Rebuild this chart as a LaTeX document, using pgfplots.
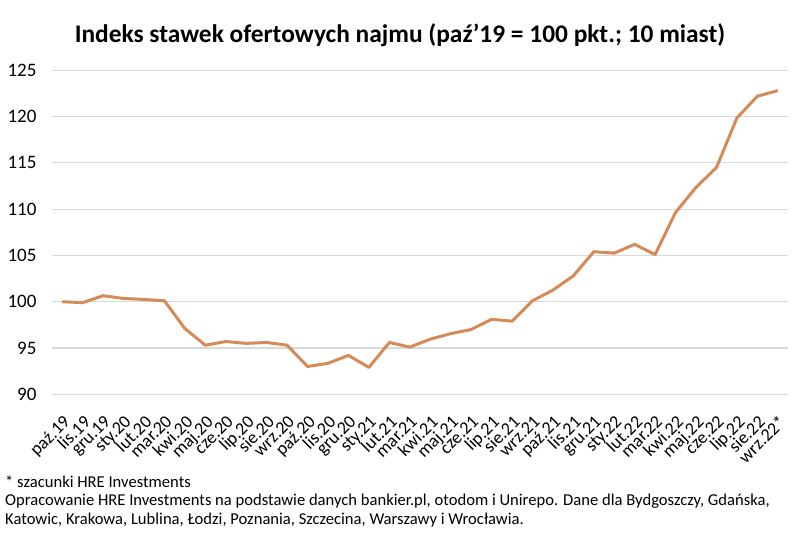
\documentclass[border=0pt]{standalone}
\usepackage{pgfplots}
\pgfplotsset{compat=1.18}
\usepackage{fontspec}
\setmainfont{Carlito}
\definecolor{lineor}{HTML}{D68A58}
\definecolor{gridgray}{HTML}{D9D9D9}
\begin{document}
\begin{tikzpicture}[x=1bp,y=1bp]
\useasboundingbox (0,0) rectangle (800,535);
\begin{axis}[
  at={(52bp,140.7bp)}, anchor=south west,
  scale only axis, width=736bp, height=324bp,
  xmin=-0.5, xmax=35.5, ymin=90, ymax=125,
  ytick={90,95,...,125},
  xtick={0,...,35},
  xticklabels={paź.19,lis.19,gru.19,sty.20,lut.20,mar.20,kwi.20,maj.20,cze.20,lip.20,sie.20,wrz.20,paź.20,lis.20,gru.20,sty.21,lut.21,mar.21,kwi.21,maj.21,cze.21,lip.21,sie.21,wrz.21,paź.21,lis.21,gru.21,sty.22,lut.22,mar.22,kwi.22,maj.22,cze.22,lip.22,sie.22,wrz.22*},
  xticklabel style={rotate=45, anchor=north east, font=\fontsize{18bp}{19bp}\selectfont, inner sep=1bp, xshift=-13bp, yshift=-13bp},
  yticklabel style={font=\fontsize{19bp}{20bp}\selectfont, xshift=-12bp},
  /pgf/number format/assume math mode=true,
  axis line style={draw=none},
  major tick length=0pt,
  ymajorgrids, grid style={gridgray, line width=1.2bp},
  clip=false,
]
\addplot[lineor, line width=3bp, line join=round] coordinates {
(0,100.0) (1,99.9) (2,100.65) (3,100.35) (4,100.25) (5,100.1)
(6,97.1) (7,95.3) (8,95.7) (9,95.5) (10,95.6) (11,95.3)
(12,93.0) (13,93.35) (14,94.2) (15,92.9) (16,95.6) (17,95.1)
(18,95.95) (19,96.55) (20,97.0) (21,98.1) (22,97.9) (23,100.1)
(24,101.25) (25,102.8) (26,105.4) (27,105.25) (28,106.2) (29,105.1)
(30,109.65) (31,112.35) (32,114.5) (33,119.85) (34,122.2) (35,122.8)
};
\end{axis}
\node[font=\bfseries\fontsize{25.4bp}{27bp}\selectfont] at (400,500) {Indeks stawek ofertowych najmu (paź'19 = 100 pkt.; 10 miast)};
\node[anchor=west, inner sep=0, font=\fontsize{16.6bp}{18bp}\selectfont] at (5,53) {* szacunki HRE Investments};
\node[anchor=west, inner sep=0, font=\fontsize{16.6bp}{18bp}\selectfont] at (5,34) {Opracowanie HRE Investments na podstawie danych bankier.pl, otodom i Unirepo. Dane dla Bydgoszczy, Gdańska,};
\node[anchor=west, inner sep=0, font=\fontsize{16.6bp}{18bp}\selectfont] at (5,15) {Katowic, Krakowa, Lublina, Łodzi, Poznania, Szczecina, Warszawy i Wrocławia.};
\end{tikzpicture}
\end{document}
